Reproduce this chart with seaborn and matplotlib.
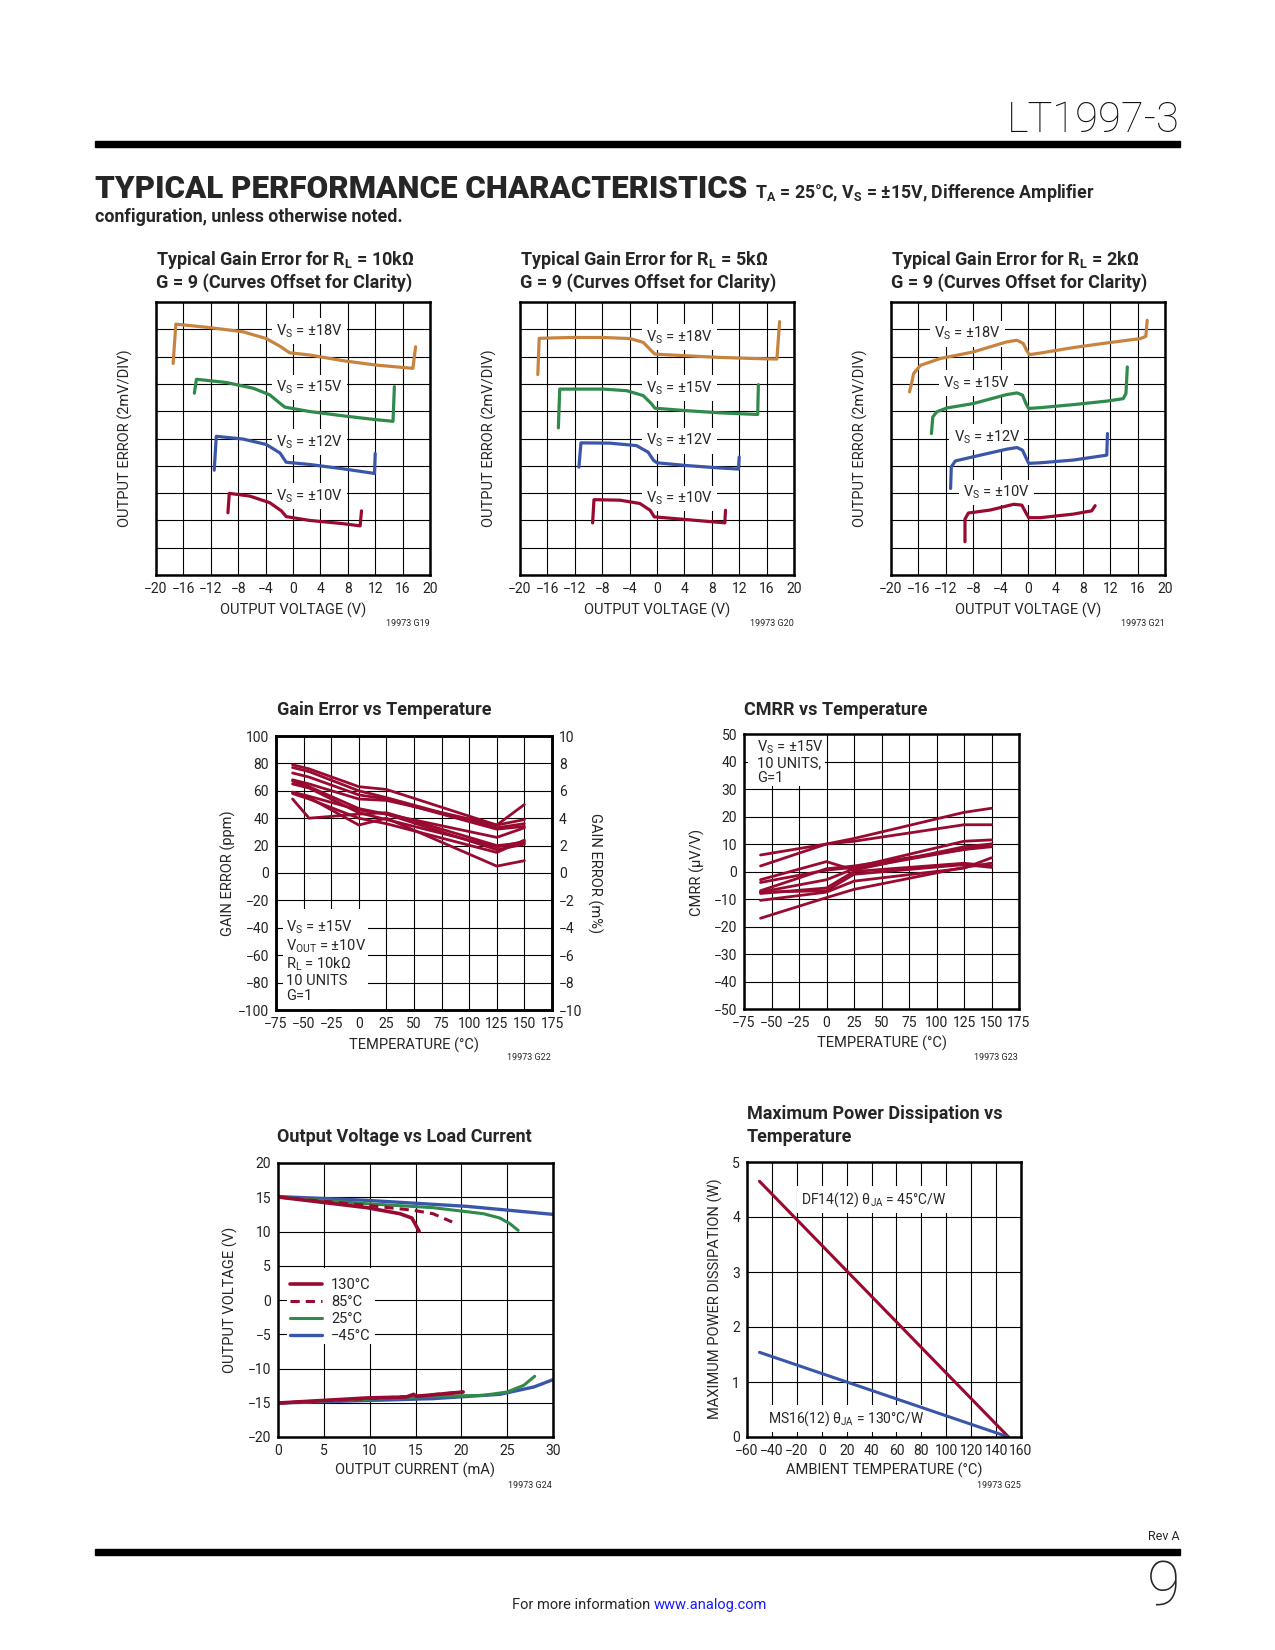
import matplotlib
matplotlib.use("Agg")
import matplotlib.pyplot as plt
from matplotlib.patches import Rectangle
import seaborn as sns

# ---- gain error curves (y in divisions, 2mV/div, curves offset) ----
rl10k_18v_x = [-17.5, -17.1, -12.1, -7.3, -3.9, -1.9, -0.5, 2.4, 7.3, 12.1, 17.5, 17.9]
rl10k_18v_y = [7.75, 9.19, 9.06, 8.91, 8.66, 8.38, 8.14, 8.06, 7.85, 7.69, 7.57, 8.36]
rl10k_15v_x = [-14.4, -14.1, -9.7, -5.8, -3.4, -1.9, -1.2, 2.4, 7.3, 12.1, 14.6, 14.8]
rl10k_15v_y = [6.66, 7.17, 7.05, 6.84, 6.60, 6.29, 6.15, 5.99, 5.83, 5.69, 5.63, 6.90]
rl10k_12v_x = [-11.5, -11.2, -7.3, -3.9, -1.9, -1.0, 2.4, 7.3, 11.9, 12.0]
rl10k_12v_y = [3.84, 5.08, 4.98, 4.78, 4.47, 4.13, 4.05, 3.89, 3.72, 4.45]
rl10k_10v_x = [-9.5, -9.3, -6.3, -3.4, -1.7, -1.0, 2.4, 7.3, 9.8, 10.0]
rl10k_10v_y = [2.28, 2.99, 2.89, 2.65, 2.35, 2.14, 2.00, 1.88, 1.80, 2.35]

rl5k_18v_x = [-17.4, -17.2, -12.7, -7.8, -3.9, -2.0, -0.8, -0.3, 4.3, 9.2, 14.1, 17.5, 17.9]
rl5k_18v_y = [7.34, 8.67, 8.70, 8.70, 8.66, 8.52, 8.21, 8.09, 8.03, 7.97, 7.93, 7.91, 9.28]
rl5k_15v_x = [-14.4, -14.2, -7.8, -4.4, -2.0, -0.8, -0.3, 4.3, 9.2, 14.7, 14.8]
rl5k_15v_y = [5.39, 6.81, 6.81, 6.75, 6.57, 6.27, 6.11, 6.02, 5.94, 5.88, 6.97]
rl5k_12v_x = [-11.4, -11.1, -6.9, -3.0, -1.3, -0.5, 0.0, 4.3, 9.2, 11.9, 12.0]
rl5k_12v_y = [3.95, 4.84, 4.83, 4.74, 4.50, 4.20, 4.11, 4.01, 3.92, 3.88, 4.32]
rl5k_10v_x = [-9.4, -9.2, -5.4, -2.5, -1.0, -0.4, 4.3, 9.9, 10.0]
rl5k_10v_y = [1.91, 2.76, 2.74, 2.62, 2.37, 2.13, 2.03, 1.91, 2.37]

rl2k_18v_x = [-17.3, -17.0, -16.7, -15.7, -12.8, -8.0, -3.1, -1.6, -0.7, -0.2, 0.2, 1.8, 6.6, 11.5, 16.4, 17.2, 17.4]
rl2k_18v_y = [6.71, 7.01, 7.38, 7.68, 7.93, 8.17, 8.54, 8.60, 8.48, 8.23, 8.07, 8.13, 8.33, 8.50, 8.66, 8.74, 9.33]
rl2k_15v_x = [-14.1, -13.9, -13.3, -11.8, -8.0, -3.1, -1.6, -0.8, -0.3, 0.1, 1.8, 6.6, 11.5, 13.9, 14.3, 14.5]
rl2k_15v_y = [5.18, 5.79, 5.98, 6.12, 6.28, 6.61, 6.67, 6.59, 6.28, 6.10, 6.13, 6.24, 6.37, 6.46, 6.65, 7.62]
rl2k_12v_x = [-11.3, -11.2, -10.6, -8.0, -3.1, -1.6, -0.8, -0.3, 0.1, 1.8, 6.6, 11.5, 11.6]
rl2k_12v_y = [3.17, 3.96, 4.18, 4.33, 4.61, 4.67, 4.57, 4.30, 4.09, 4.11, 4.21, 4.39, 5.18]
rl2k_10v_x = [-9.2, -9.2, -8.7, -5.5, -2.1, -0.9, -0.4, 0.1, 1.8, 6.6, 9.3, 9.8]
rl2k_10v_y = [1.22, 2.05, 2.27, 2.38, 2.59, 2.56, 2.32, 2.10, 2.10, 2.23, 2.35, 2.54]

vs_labels = ['18', '15', '12', '10']

# ---- gain error vs temperature (ppm), 10 units ----
ge_temp = [-60, -45, 0, 25, 125, 150]
ge_units = [
    [79, 76, 63, 61, 35, 39],
    [77, 74, 60, 55, 33, 36],
    [73, 70, 57, 54, 32, 34],
    [68, 65, 54, 53, 35, 50],
    [67, 63, 47, 43, 26, 33],
    [65, 62, 44, 39, 19, 23],
    [59, 56, 46, 43, 17, 21],
    [58, 54, 40, 36, 15, 24],
    [54, 40, 43, 44, 20, 22],
    [59, 55, 35, 40, 5, 9],
]

# ---- CMRR vs temperature (uV/V), 10 units ----
cm_temp = [-60, 0, 25, 125, 150]
cm_units = [
    [2, 10, 12, 21.5, 23],
    [6, 10, 11, 17, 17],
    [-3, 3.6, 0.5, 9, 10],
    [-4, 0.5, 1.5, 11, 11.5],
    [-7, 1, 2, 8, 9],
    [-7.5, -3, 1, 8, 10],
    [-8, -6, 0, 3, 2],
    [-7.5, -7, -1, 2.5, 1.5],
    [-10.5, -7.5, -3.5, 1.2, 5],
    [-17, -9.5, -6.5, 1.5, 3],
]

# ---- output voltage vs load current ----
src_m45_x = [0, 9.7, 20.6, 30]
src_m45_y = [15.1, 14.55, 13.67, 12.5]
src_25_x = [0, 9.7, 16.9, 22.4, 24.2, 25.3, 26.2]
src_25_y = [15.04, 14.06, 13.48, 12.6, 11.97, 11.14, 10.17]
src_85_x = [0, 9.7, 14.8, 16.9, 19.0]
src_85_y = [15.04, 13.82, 13.09, 12.6, 11.39]
src_130_x = [0, 9.7, 13.3, 14.6, 14.95, 15.4]
src_130_y = [15.04, 13.48, 12.6, 11.97, 11.14, 10.02]
snk_m45_x = [0, 16.9, 24.2, 27.9, 30]
snk_m45_y = [-15.04, -14.4, -13.77, -12.7, -11.63]
snk_25_x = [0, 16.9, 22.4, 25.0, 26.8, 28.0]
snk_25_y = [-15.04, -14.06, -13.92, -13.43, -12.46, -11.14]
snk_85_x = [0, 9.7, 14.8, 20.2]
snk_85_y = [-15.04, -14.4, -14.06, -13.43]
snk_130_x = [0, 9.7, 14.0, 14.8, 15.1, 20.2]
snk_130_y = [-15.04, -14.3, -14.16, -13.77, -14.06, -13.43]

# ---- maximum power dissipation ----
pd_temp = [-50, 150]
pd_df14 = [4.65, 0.0]
pd_ms16 = [1.54, 0.0]

ORANGE = '#c8843f'
GREEN = '#2f8a4b'
BLUE = '#3a56a8'
RED = '#990a30'
FONT = ['Liberation Sans Narrow', 'Roboto', 'DejaVu Sans']

sns.set_style("white")
plt.rcParams['font.family'] = FONT
plt.rcParams['axes.unicode_minus'] = True

W, H = 1275, 1650
fig = plt.figure(figsize=(W / 100, H / 100), dpi=100)


def px_axes(l, t, r, b):
    return fig.add_axes([l / W, 1 - b / H, (r - l) / W, (b - t) / H])


def ftext(x, y, s, **kw):
    kw.setdefault('va', 'center')
    fig.text(x / W, 1 - y / H, s, **kw)


def style(ax):
    ax.grid(True, color='black', lw=0.8)
    ax.set_axisbelow(True)
    for sp in ax.spines.values():
        sp.set_linewidth(1.8)
        sp.set_color('black')
    ax.tick_params(length=0, labelsize=10, pad=5, colors='#222222')


def blank(ax, x0, y0, x1, y1):
    ax.add_patch(Rectangle((x0, y0), x1 - x0, y1 - y0, facecolor='white',
                           edgecolor='none', zorder=1))


def gain_chart(rect, rl, curves, lab_x, lab_y, code):
    l, t, r, b = rect
    ax = px_axes(l, t, r, b)
    for (xs, ys), c in zip(curves, [ORANGE, GREEN, BLUE, RED]):
        sns.lineplot(x=xs, y=ys, ax=ax, color=c, lw=2.3, sort=False, estimator=None)
    ax.set_xlim(-20, 20)
    ax.set_ylim(0, 10)
    ax.set_xticks(range(-20, 21, 4))
    ax.set_yticks(range(0, 11))
    ax.set_yticklabels([])
    ax.set_xlabel('')
    style(ax)
    for lx, ly, v in zip(lab_x, lab_y, vs_labels):
        ax.text(lx, ly, r'$\mathregular{V_S}$ = ±%sV' % v, ha='center', va='center',
                fontsize=10.5, zorder=1.5,
                bbox=dict(facecolor='white', edgecolor='none', pad=3))
    ftext(l, 260, r'Typical Gain Error for $\mathregular{R_L}$ = %s' % rl,
          ha='left', fontsize=13, fontweight='bold')
    ftext(l, 283, 'G = 9 (Curves Offset for Clarity)', ha='left', fontsize=13,
          fontweight='bold')
    ftext((l + r) / 2, 610, 'OUTPUT VOLTAGE (V)', ha='center', fontsize=10.5)
    ftext(l - 31, (t + b) / 2, 'OUTPUT ERROR (2mV/DIV)', ha='center', rotation=90,
          fontsize=10.5)
    ftext(r, 624, code, ha='right', fontsize=6.5)
    return ax


# ---- header ----
ftext(1180, 121, 'LT1997-3', ha='right', fontsize=30, fontweight='light', color='#111111')
fig.add_artist(Rectangle((95 / W, 1 - 147 / H), 1085 / W, 6 / H,
                         transform=fig.transFigure, color='black'))
ftext(95, 189, 'TYPICAL PERFORMANCE CHARACTERISTICS', ha='left', fontsize=22.5,
      fontweight='heavy')
ftext(755, 193, r'$\mathregular{T_A}$ = 25°C, $\mathregular{V_S}$ = ±15V, Difference Amplifier',
      ha='left', fontsize=12.8, fontweight='bold')
ftext(95, 217, 'configuration, unless otherwise noted.', ha='left', fontsize=12.8,
      fontweight='bold')

# ---- top row ----
gain_chart((156, 302, 430, 575), '10kΩ',
           [(rl10k_18v_x, rl10k_18v_y), (rl10k_15v_x, rl10k_15v_y),
            (rl10k_12v_x, rl10k_12v_y), (rl10k_10v_x, rl10k_10v_y)],
           [2.4, 2.4, 2.4, 2.4], [8.94, 6.87, 4.86, 2.89], '19973 G19')
gain_chart((520, 302, 794, 575), '5kΩ',
           [(rl5k_18v_x, rl5k_18v_y), (rl5k_15v_x, rl5k_15v_y),
            (rl5k_12v_x, rl5k_12v_y), (rl5k_10v_x, rl5k_10v_y)],
           [3.3, 3.3, 3.3, 3.3], [8.72, 6.85, 4.92, 2.8], '19973 G20')
gain_chart((891, 302, 1165, 575), '2kΩ',
           [(rl2k_18v_x, rl2k_18v_y), (rl2k_15v_x, rl2k_15v_y),
            (rl2k_12v_x, rl2k_12v_y), (rl2k_10v_x, rl2k_10v_y)],
           [-8.9, -7.5, -6.0, -4.6], [8.84, 7.04, 5.06, 3.02], '19973 G21')

# ---- gain error vs temperature ----
ax = px_axes(276, 736, 552, 1010)
for unit in ge_units:
    sns.lineplot(x=ge_temp, y=unit, ax=ax, color=RED, lw=2.0, sort=False, estimator=None)
ax.set_xlim(-75, 175)
ax.set_ylim(-100, 100)
ax.set_xticks(range(-75, 176, 25))
ax.set_yticks(range(-100, 101, 20))
style(ax)
blank(ax, -69, -99.5, 8, -26)
ax.text(-66, -33.5, r'$\mathregular{V_S}$ = ±15V' + '\n' + r'$\mathregular{V_{OUT}}$ = ±10V' + '\n'
        + r'$\mathregular{R_L}$ = 10kΩ' + '\n' + '10 UNITS\nG=1',
        ha='left', va='top', fontsize=10.5, linespacing=1.08, zorder=3)
ax2 = ax.twinx()
ax2.set_ylim(-10, 10)
ax2.set_yticks(range(-10, 11, 2))
ax2.tick_params(length=0, labelsize=10, pad=5, colors='#222222')
for sp in ax2.spines.values():
    sp.set_linewidth(1.8)
    sp.set_color('black')
ftext(277, 710, 'Gain Error vs Temperature', ha='left', fontsize=13, fontweight='bold')
ftext(414, 1045, 'TEMPERATURE (°C)', ha='center', fontsize=10.5)
ftext(228, 873, 'GAIN ERROR (ppm)', ha='center', rotation=90, fontsize=10.5)
ftext(595, 873, 'GAIN ERROR (m%)', ha='center', rotation=-90, fontsize=10.5)
ftext(551, 1058, '19973 G22', ha='right', fontsize=6.5)

# ---- CMRR vs temperature ----
ax = px_axes(744, 734, 1019, 1009)
for unit in cm_units:
    sns.lineplot(x=cm_temp, y=unit, ax=ax, color=RED, lw=2.0, sort=False, estimator=None)
ax.set_xlim(-75, 175)
ax.set_ylim(-50, 50)
ax.set_xticks(range(-75, 176, 25))
ax.set_yticks(range(-50, 51, 10))
style(ax)
blank(ax, -71.5, 31, -1, 49.6)
ax.text(-63, 48.5, r'$\mathregular{V_S}$ = ±15V' + '\n10 UNITS,\nG=1', ha='left', va='top',
        fontsize=10.5, linespacing=1.08, zorder=3)
ftext(744, 710, 'CMRR vs Temperature', ha='left', fontsize=13, fontweight='bold')
ftext(882, 1043, 'TEMPERATURE (°C)', ha='center', fontsize=10.5)
ftext(697, 872, 'CMRR (µV/V)', ha='center', rotation=90, fontsize=10.5)
ftext(1018, 1057, '19973 G23', ha='right', fontsize=6.5)

# ---- output voltage vs load current ----
ax = px_axes(278, 1163, 553, 1437)
sns.lineplot(x=src_m45_x, y=src_m45_y, ax=ax, color=BLUE, lw=2.4, sort=False, estimator=None, label='−45°C')
sns.lineplot(x=snk_m45_x, y=snk_m45_y, ax=ax, color=BLUE, lw=2.4, sort=False, estimator=None)
sns.lineplot(x=src_25_x, y=src_25_y, ax=ax, color=GREEN, lw=2.2, sort=False, estimator=None, label='25°C')
sns.lineplot(x=snk_25_x, y=snk_25_y, ax=ax, color=GREEN, lw=2.2, sort=False, estimator=None)
sns.lineplot(x=src_85_x, y=src_85_y, ax=ax, color=RED, lw=2.2, sort=False, estimator=None,
             linestyle=(0, (3, 2)), label='85°C')
sns.lineplot(x=snk_85_x, y=snk_85_y, ax=ax, color=RED, lw=2.2, sort=False, estimator=None,
             linestyle=(0, (3, 2)))
sns.lineplot(x=src_130_x, y=src_130_y, ax=ax, color=RED, lw=2.6, sort=False, estimator=None, label='130°C')
sns.lineplot(x=snk_130_x, y=snk_130_y, ax=ax, color=RED, lw=2.6, sort=False, estimator=None)
ax.set_xlim(0, 30)
ax.set_ylim(-20, 20)
ax.set_xticks(range(0, 31, 5))
ax.set_yticks(range(-20, 21, 5))
style(ax)
blank(ax, 1.0, -6.4, 10.6, 4.6)
handles, labels = ax.get_legend_handles_labels()
ax.legend(handles[::-1], labels[::-1], loc='upper left', bbox_to_anchor=(0.045, 0.58),
          frameon=False, fontsize=10.5, handlelength=2.2, handletextpad=0.6,
          labelspacing=0.2, borderpad=0, borderaxespad=0)
ftext(277, 1137, 'Output Voltage vs Load Current', ha='left', fontsize=13, fontweight='bold')
ftext(415, 1470, 'OUTPUT CURRENT (mA)', ha='center', fontsize=10.5)
ftext(230, 1300, 'OUTPUT VOLTAGE (V)', ha='center', rotation=90, fontsize=10.5)
ftext(552, 1485, '19973 G24', ha='right', fontsize=6.5)

# ---- maximum power dissipation ----
ax = px_axes(747, 1162, 1021, 1437)
sns.lineplot(x=pd_temp, y=pd_df14, ax=ax, color=RED, lw=2.2)
sns.lineplot(x=pd_temp, y=pd_ms16, ax=ax, color=BLUE, lw=2.2)
ax.set_xlim(-60, 160)
ax.set_ylim(0, 5)
ax.set_xticks(range(-60, 161, 20))
ax.set_yticks(range(0, 6))
style(ax)
ax.text(-16.4, 4.32, r'DF14(12) $\mathregular{θ_{JA}}$ = 45°C/W', ha='left', va='center',
        fontsize=10, zorder=1.5, bbox=dict(facecolor='white', edgecolor='none', pad=3))
ax.text(-43, 0.33, r'MS16(12) $\mathregular{θ_{JA}}$ = 130°C/W', ha='left', va='center',
        fontsize=10, zorder=1.5, bbox=dict(facecolor='white', edgecolor='none', pad=3))
ftext(747, 1114, 'Maximum Power Dissipation vs', ha='left', fontsize=13, fontweight='bold')
ftext(747, 1137, 'Temperature', ha='left', fontsize=13, fontweight='bold')
ftext(884, 1470, 'AMBIENT TEMPERATURE (°C)', ha='center', fontsize=10.5)
ftext(715, 1299, 'MAXIMUM POWER DISSIPATION (W)', ha='center', rotation=90, fontsize=10.5)
ftext(1021, 1485, '19973 G25', ha='right', fontsize=6.5)

# ---- footer ----
ftext(1180, 1537, 'Rev A', ha='right', fontsize=9)
fig.add_artist(Rectangle((95 / W, 1 - 1555 / H), 1085 / W, 6 / H,
                         transform=fig.transFigure, color='black'))
ftext(1180, 1588, '9', ha='right', fontsize=44, fontweight='light')
ftext(512, 1605, 'For more information', ha='left', fontsize=10.5)
ftext(654, 1605, 'www.analog.com', ha='left', fontsize=10.5, color='#1a1aff')

fig.savefig('out.png', dpi=100, facecolor='white')
